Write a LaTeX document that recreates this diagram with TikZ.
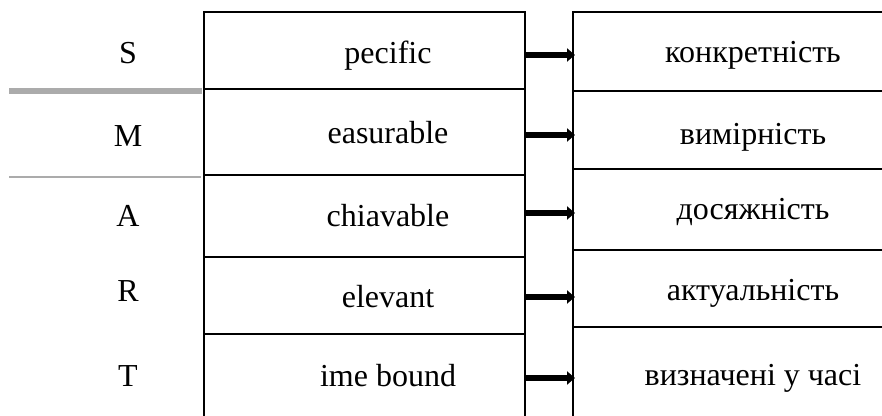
\documentclass[tikz,border=0pt]{standalone}
\usepackage{fontspec}
\setmainfont{Liberation Serif}
\usetikzlibrary{arrows.meta}
\begin{document}
\begin{tikzpicture}[x=0.5pt,y=-0.5pt,
  grid/.style={line width=1.1pt,black},
  grayline/.style={draw=black!33},
  lbl/.style={anchor=base,inner sep=0pt,font=\fontsize{16}{19}\selectfont},
  conn/.style={line width=2.6pt,-{Triangle[length=4pt,width=6.5pt]},shorten >=-1pt}]
\useasboundingbox (0,0) rectangle (882,416);
\clip (0,0) rectangle (882,416);
% gray separators on the left
\draw[grayline,line width=3pt] (9,91) -- (202,91);
\draw[grayline,line width=1.2pt] (9,177) -- (201,177);
% middle column
\draw[grid] (204,430) -- (204,12) -- (525,12) -- (525,430);
\draw[grid] (204,89) -- (525,89);
\draw[grid] (204,175) -- (525,175);
\draw[grid] (204,257) -- (525,257);
\draw[grid] (204,334) -- (525,334);
% right column
\draw[grid] (573,430) -- (573,12) -- (900,12);
\draw[grid] (573,91) -- (900,91);
\draw[grid] (573,169) -- (900,169);
\draw[grid] (573,250) -- (900,250);
\draw[grid] (573,327) -- (900,327);
% letters
\node[lbl] (l1) at (128,64) {S};
\node[lbl] (l2) at (128,147) {M};
\node[lbl] (l3) at (128,227) {A};
\node[lbl] (l4) at (128,302) {R};
\node[lbl] (l5) at (128,386) {T};
% middle texts
\node[lbl] (m1) at (388,64) {pecific};
\node[lbl] (m2) at (388,144) {easurable};
\node[lbl] (m3) at (388,227) {chiavable};
\node[lbl] (m4) at (388,307) {elevant};
\node[lbl] (m5) at (388,386) {ime bound};
% right texts
\node[lbl] (r1) at (753,63) {конкретність};
\node[lbl] (r2) at (753,145) {вимірність};
\node[lbl] (r3) at (753,220) {досяжність};
\node[lbl] (r4) at (753,300) {актуальність};
\node[lbl] (r5) at (753,385) {визначені у часі};
% arrows
\foreach \i/\y in {1/55,2/135,3/213,4/297,5/378}{
  \coordinate (a\i) at (525,\y);
  \coordinate (b\i) at (573,\y);
  \draw[conn] (a\i) -- (b\i);
}
\end{tikzpicture}
\end{document}
